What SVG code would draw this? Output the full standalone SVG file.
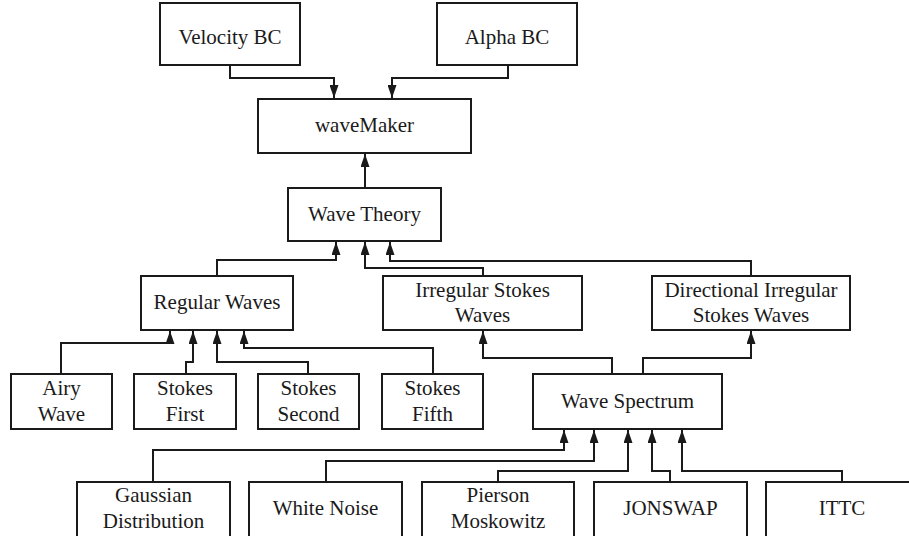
<svg xmlns="http://www.w3.org/2000/svg" width="909" height="536" viewBox="0 0 909 536">
<style>
.box{fill:#fff;stroke:#1a1a1a;stroke-width:2}
.t{font-size:21px;fill:#1a1a1a;text-anchor:middle}
.c{fill:none;stroke:#1a1a1a;stroke-width:2;marker-end:url(#ah)}
</style>
<defs>
<marker id="ah" viewBox="0 0 13 9" refX="13" refY="4.5" markerWidth="13" markerHeight="9" markerUnits="userSpaceOnUse" orient="auto">
<path d="M0,0 L13,4.5 L0,9 z" fill="#1a1a1a"/>
</marker>
</defs>
<rect width="909" height="536" fill="#fff"/>
<g id="connectors">
<polyline class="c" points="230,65 230,78 334,78 334,98"/>
<polyline class="c" points="508,65 508,78 392,78 392,98"/>
<polyline class="c" points="365,188 365,154"/>
<polyline class="c" points="217,276 217,260 336,260 336,242"/>
<polyline class="c" points="483,276 483,268 365,268 365,242"/>
<polyline class="c" points="751,276 751,261 390,261 390,242"/>
<polyline class="c" points="61,374 61,343 170,343 170,331"/>
<polyline class="c" points="186,374 186,362 193,362 193,331"/>
<polyline class="c" points="308,374 308,362 217,362 217,331"/>
<polyline class="c" points="433,374 433,348 244,348 244,331"/>
<polyline class="c" points="612,374 612,358 483,358 483,331"/>
<polyline class="c" points="643,374 643,358 751,358 751,331"/>
<polyline class="c" points="153,482 153,450 564,450 564,430"/>
<polyline class="c" points="326,482 326,461 594,461 594,430"/>
<polyline class="c" points="498,482 498,471 628,471 628,430"/>
<polyline class="c" points="670,482 670,471 652,471 652,430"/>
<polyline class="c" points="842,482 842,471 682,471 682,430"/>
</g>
<g id="nodes" font-family="Liberation Serif, Times New Roman, serif">
<g id="velocity-bc"><rect class="box" x="160" y="3" width="140" height="62"/><text class="t" x="230" y="44">Velocity BC</text></g>
<g id="alpha-bc"><rect class="box" x="437" y="3" width="140" height="62"/><text class="t" x="507" y="44">Alpha BC</text></g>
<g id="wavemaker"><rect class="box" x="258" y="99" width="213" height="54"/><text class="t" x="364.5" y="132">waveMaker</text></g>
<g id="wave-theory"><rect class="box" x="288" y="188" width="153" height="53"/><text class="t" x="364.5" y="221">Wave Theory</text></g>
<g id="regular-waves"><rect class="box" x="141" y="276" width="152" height="54"/><text class="t" x="217" y="309">Regular Waves</text></g>
<g id="irregular-stokes"><rect class="box" x="383" y="276" width="199" height="54"/><text class="t" x="482.5" y="297">Irregular Stokes</text><text class="t" x="482.5" y="322">Waves</text></g>
<g id="directional-irregular"><rect class="box" x="652" y="276" width="198" height="54"/><text class="t" x="751" y="297">Directional Irregular</text><text class="t" x="751" y="322">Stokes Waves</text></g>
<g id="airy-wave"><rect class="box" x="11" y="374" width="101" height="55"/><text class="t" x="61.5" y="395">Airy</text><text class="t" x="61.5" y="421">Wave</text></g>
<g id="stokes-first"><rect class="box" x="134" y="374" width="102" height="55"/><text class="t" x="185" y="395">Stokes</text><text class="t" x="185" y="421">First</text></g>
<g id="stokes-second"><rect class="box" x="258" y="374" width="101" height="55"/><text class="t" x="308.5" y="395">Stokes</text><text class="t" x="308.5" y="421">Second</text></g>
<g id="stokes-fifth"><rect class="box" x="382" y="374" width="101" height="55"/><text class="t" x="432.5" y="395">Stokes</text><text class="t" x="432.5" y="421">Fifth</text></g>
<g id="wave-spectrum"><rect class="box" x="533" y="374" width="189" height="55"/><text class="t" x="627.5" y="408">Wave Spectrum</text></g>
<g id="gaussian"><rect class="box" x="77" y="482" width="153" height="60"/><text class="t" x="153.5" y="502">Gaussian</text><text class="t" x="153.5" y="528">Distribution</text></g>
<g id="white-noise"><rect class="box" x="249" y="482" width="153" height="60"/><text class="t" x="325.5" y="515">White Noise</text></g>
<g id="pierson-moskowitz"><rect class="box" x="422" y="482" width="152" height="60"/><text class="t" x="498" y="502">Pierson</text><text class="t" x="498" y="528">Moskowitz</text></g>
<g id="jonswap"><rect class="box" x="594" y="482" width="153" height="60"/><text class="t" x="670.5" y="515">JONSWAP</text></g>
<g id="ittc"><rect class="box" x="766" y="482" width="153" height="60"/><text class="t" x="842" y="515">ITTC</text></g>
</g>
</svg>
